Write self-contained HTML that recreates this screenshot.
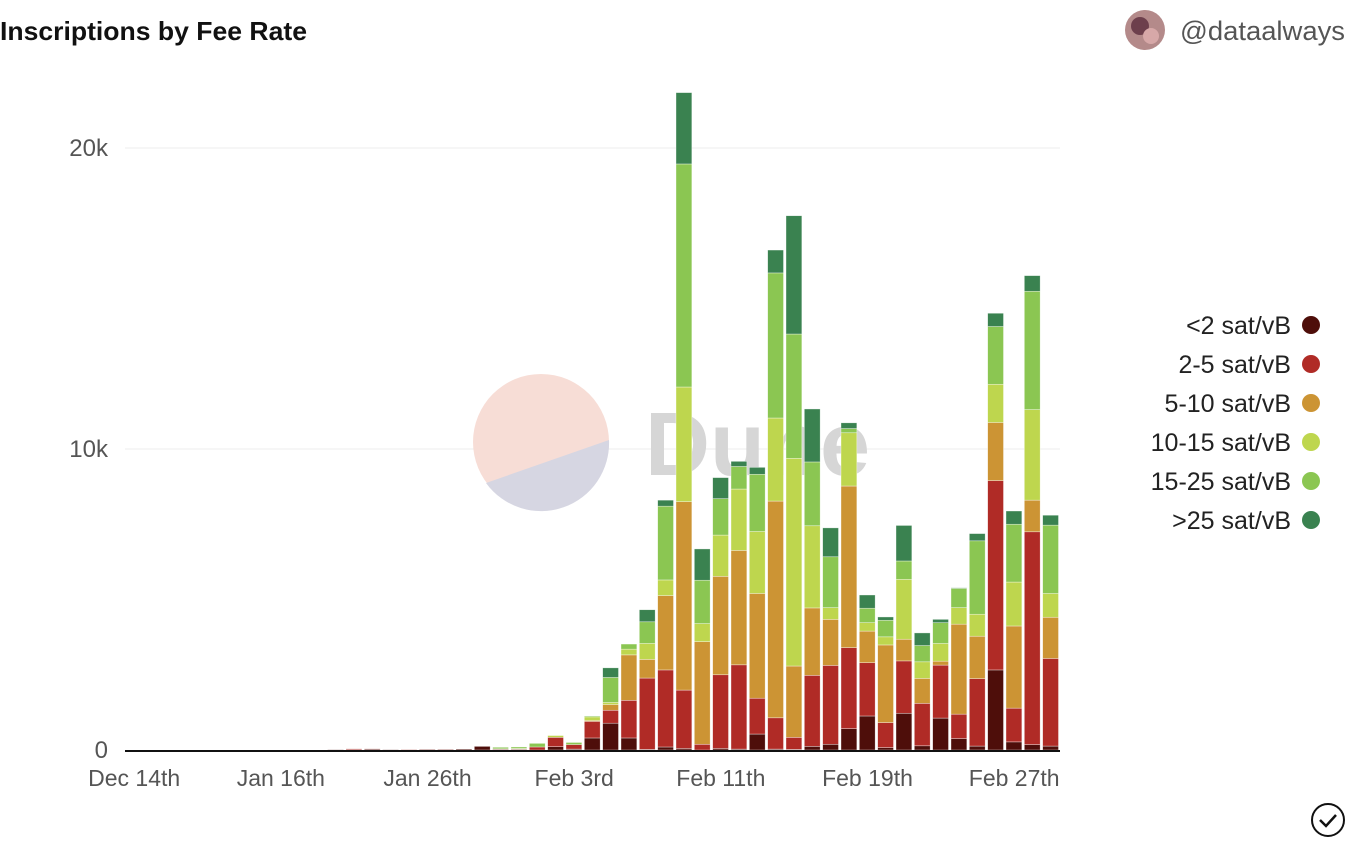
<!DOCTYPE html>
<html><head><meta charset="utf-8"><style>
html,body{margin:0;padding:0;background:#fff;width:1352px;height:846px;overflow:hidden;font-family:"Liberation Sans",sans-serif}
</style></head><body>
<svg id="chart" width="1352" height="846" xmlns="http://www.w3.org/2000/svg">
<text x="0" y="40" font-size="26" font-weight="bold" fill="#111" textLength="307" lengthAdjust="spacingAndGlyphs">Inscriptions by Fee Rate</text>
<g>
<circle cx="1145" cy="30" r="20" fill="#b48a8a"/><circle cx="1140" cy="26" r="9" fill="#6d3f4c"/><circle cx="1151" cy="36" r="8" fill="#d7a8a8"/>
<text x="1180" y="40" font-size="27" fill="#555" textLength="165" lengthAdjust="spacingAndGlyphs">@dataalways</text></g>
<g id="grid"></g>
<g>
<circle cx="541" cy="442" r="68" fill="#f7ddd6"/>
<path d="M609,440 A68,68 0 0 1 486,483 Z" fill="#d6d6e2"/>
<text x="645" y="475" font-size="90" font-weight="bold" fill="#d6d6d6">Dune</text></g>
<g id="bars"></g>
<g id="axis"></g>
<g id="legend"></g>
<g><circle cx="1328" cy="820" r="16" fill="none" stroke="#111" stroke-width="2"/><path d="M1320,820 l6,6 l10,-11" fill="none" stroke="#111" stroke-width="2.5"/></g>
</svg>
<script>
const dates=["Dec 14th","Dec 20th","Dec 26th","Jan 1st","Jan 5th","Jan 8th","Jan 11th","Jan 14th","Jan 16th","Jan 17th","Jan 18th","Jan 19th","Jan 20th","Jan 21st","Jan 22nd","Jan 24th","Jan 26th","Jan 27th","Jan 28th","Jan 29th","Jan 30th","Jan 31st","Feb 1st","Feb 2nd","Feb 3rd","Feb 4th","Feb 5th","Feb 6th","Feb 7th","Feb 8th","Feb 9th","Feb 10th","Feb 11th","Feb 12th","Feb 13th","Feb 14th","Feb 15th","Feb 16th","Feb 17th","Feb 18th","Feb 19th","Feb 20th","Feb 21st","Feb 22nd","Feb 23rd","Feb 24th","Feb 25th","Feb 26th","Feb 27th","Feb 28th","Feb 29th"];
const seriesNames=["<2 sat/vB","2-5 sat/vB","5-10 sat/vB","10-15 sat/vB","15-25 sat/vB",">25 sat/vB"];
const colors=["#4e0e0a","#b02b26","#cc9434","#bed64e","#8bc652","#3a8250"];
const z=n=>Array(n).fill(0);
const s0=[...z(11),0.01,0.01,0.03,0.01,0.01,0.02,0.02,0.03,0.12,0.02,0.02,0,0.11,0.03,0.4,0.89,0.4,0.02,0.1,0.05,0,0.05,0.03,0.53,0.03,0.02,0.12,0.19,0.71,1.13,0.08,1.22,0.14,1.06,0.38,0.13,2.66,0.27,0.18,0.13];
const s1=[...z(11),0,0.03,0.01,0,0.01,0.01,0.01,0,0,0.02,0.02,0.1,0.31,0.15,0.55,0.43,1.25,2.37,2.56,1.94,0.19,2.45,2.8,1.19,1.04,0.4,2.36,2.62,2.69,1.77,0.83,1.74,1.41,1.76,0.81,2.24,6.29,1.12,7.07,2.91];
const s2=[...z(11),0,0,0,0,0,0,0,0,0,0,0,0,0,0,0.03,0.19,1.51,0.62,2.47,6.26,3.41,3.27,3.8,3.48,7.2,2.37,2.24,1.53,5.37,1.05,2.58,0.72,0.83,0.13,2.99,1.41,1.93,2.73,1.05,1.37];
const s3=[...z(11),0,0,0,0,0,0,0,0,0,0,0.01,0,0.06,0,0.12,0.07,0.19,0.53,0.52,3.81,0.6,1.37,2.04,2.06,2.76,6.9,2.73,0.39,1.77,0.28,0.27,1.99,0.55,0.59,0.55,0.73,1.27,1.46,3.01,0.79];
const s4=[...z(11),0,0,0,0,0,0,0,0,0,0.05,0.05,0.12,0,0.07,0.03,0.83,0.17,0.72,2.45,7.41,1.44,1.21,0.75,1.9,4.82,4.13,2.12,1.69,0.14,0.48,0.55,0.61,0.54,0.69,0.64,2.44,1.92,1.92,3.93,2.27];
const s5=[...z(11),0,0,0,0,0,0,0,0,0,0,0,0,0,0,0,0.32,0,0.4,0.2,2.37,1.04,0.7,0.17,0.23,0.76,3.93,1.76,0.96,0.19,0.44,0.11,1.18,0.42,0.11,0.02,0.24,0.44,0.44,0.52,0.33];
const series=[s0,s1,s2,s3,s4,s5];
const yTicks=[0,10,20];
const yTickLabels=["0","10k","20k"];
const X0=125,X1=1060,Y0=750,PPK=30.1;
const step=(X1-X0)/dates.length;
const xs=i=>X0+step*i;
const ys=v=>Y0-v*PPK;
const NS="http://www.w3.org/2000/svg";
function mk(t,a,p){const e=document.createElementNS(NS,t);for(const k in a)e.setAttribute(k,a[k]);p.appendChild(e);return e;}
const grid=document.getElementById('grid'),axis=document.getElementById('axis');
yTicks.forEach((v,i)=>{
 if(v>0){const l=mk('line',{x1:X0,x2:X1,y1:ys(v),y2:ys(v),stroke:'#ececec','stroke-width':1},grid);
 
 }
 const t=mk('text',{x:108,y:ys(v)+8,'text-anchor':'end','font-size':24,fill:'#555'},axis);
 t.textContent=yTickLabels[i];
 
 
});
const bars=document.getElementById('bars');
dates.forEach((d,i)=>{
 let acc=0;
 series.forEach((s,k)=>{
  const v=s[i];if(!v)return;
  const r=mk('rect',{x:xs(i)+1,y:ys(acc+v),width:step-2.5,height:v*PPK,fill:colors[k],stroke:'rgba(255,255,255,0.6)','stroke-width':0.6},bars);
  
  
  acc+=v;
 });
});
const base=mk('line',{x1:X0,x2:X1,y1:Y0+1,y2:Y0+1,stroke:'#111','stroke-width':2},axis);


dates.forEach((d,i)=>{
 if(i%8!==0)return;
 const t=mk('text',{x:xs(i)+step/2,y:786,'text-anchor':'middle','font-size':23,fill:'#555'},axis);
 t.textContent=d;
 
 
});
const lg=document.getElementById('legend');
seriesNames.forEach((n,k)=>{
 const y=325+k*39;
 const g=mk('g',{},lg);
 
 
 const t=mk('text',{x:1291,y:y+9,'text-anchor':'end','font-size':25,fill:'#222'},g);t.textContent=n;
 mk('circle',{cx:1311,cy:y,r:9,fill:colors[k]},g);
});
</script>
</body></html>
